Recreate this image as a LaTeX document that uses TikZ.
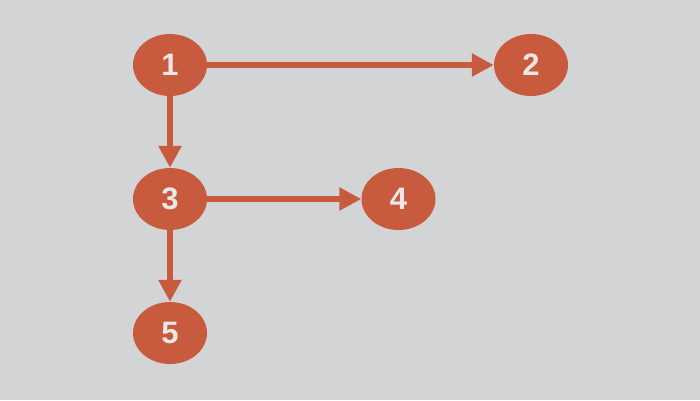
\documentclass[tikz,border=0pt]{standalone}
\usepackage{fontspec}
\setmainfont{Liberation Sans}
\usetikzlibrary{shapes.geometric,arrows.meta}
\definecolor{bg}{HTML}{D3D4D6}
\definecolor{nodeclr}{HTML}{C85B3D}
\definecolor{txt}{HTML}{E8E8E8}
\tikzset{
  vert/.style={ellipse, fill=nodeclr, draw=none, minimum width=74pt, minimum height=62pt, inner sep=0pt, text=txt, font=\fontsize{31}{31}\selectfont\bfseries},
  conn/.style={draw=nodeclr, line width=5.5pt, -{Triangle[length=22pt,width=22pt]}}
}
\begin{document}
\begin{tikzpicture}[x=1pt,y=-1pt]
\fill[bg] (0,0) rectangle (700,400);
\useasboundingbox (0,0) rectangle (700,400);
\node[vert] (n1) at (170,65) {1};
\node[vert] (n2) at (531,65) {2};
\node[vert] (n3) at (170,199) {3};
\node[vert] (n4) at (398.5,199) {4};
\node[vert] (n5) at (170,333) {5};
\draw[conn] (n1) -- (n2);
\draw[conn] (n1) -- (n3);
\draw[conn] (n3) -- (n4);
\draw[conn] (n3) -- (n5);
\end{tikzpicture}
\end{document}
